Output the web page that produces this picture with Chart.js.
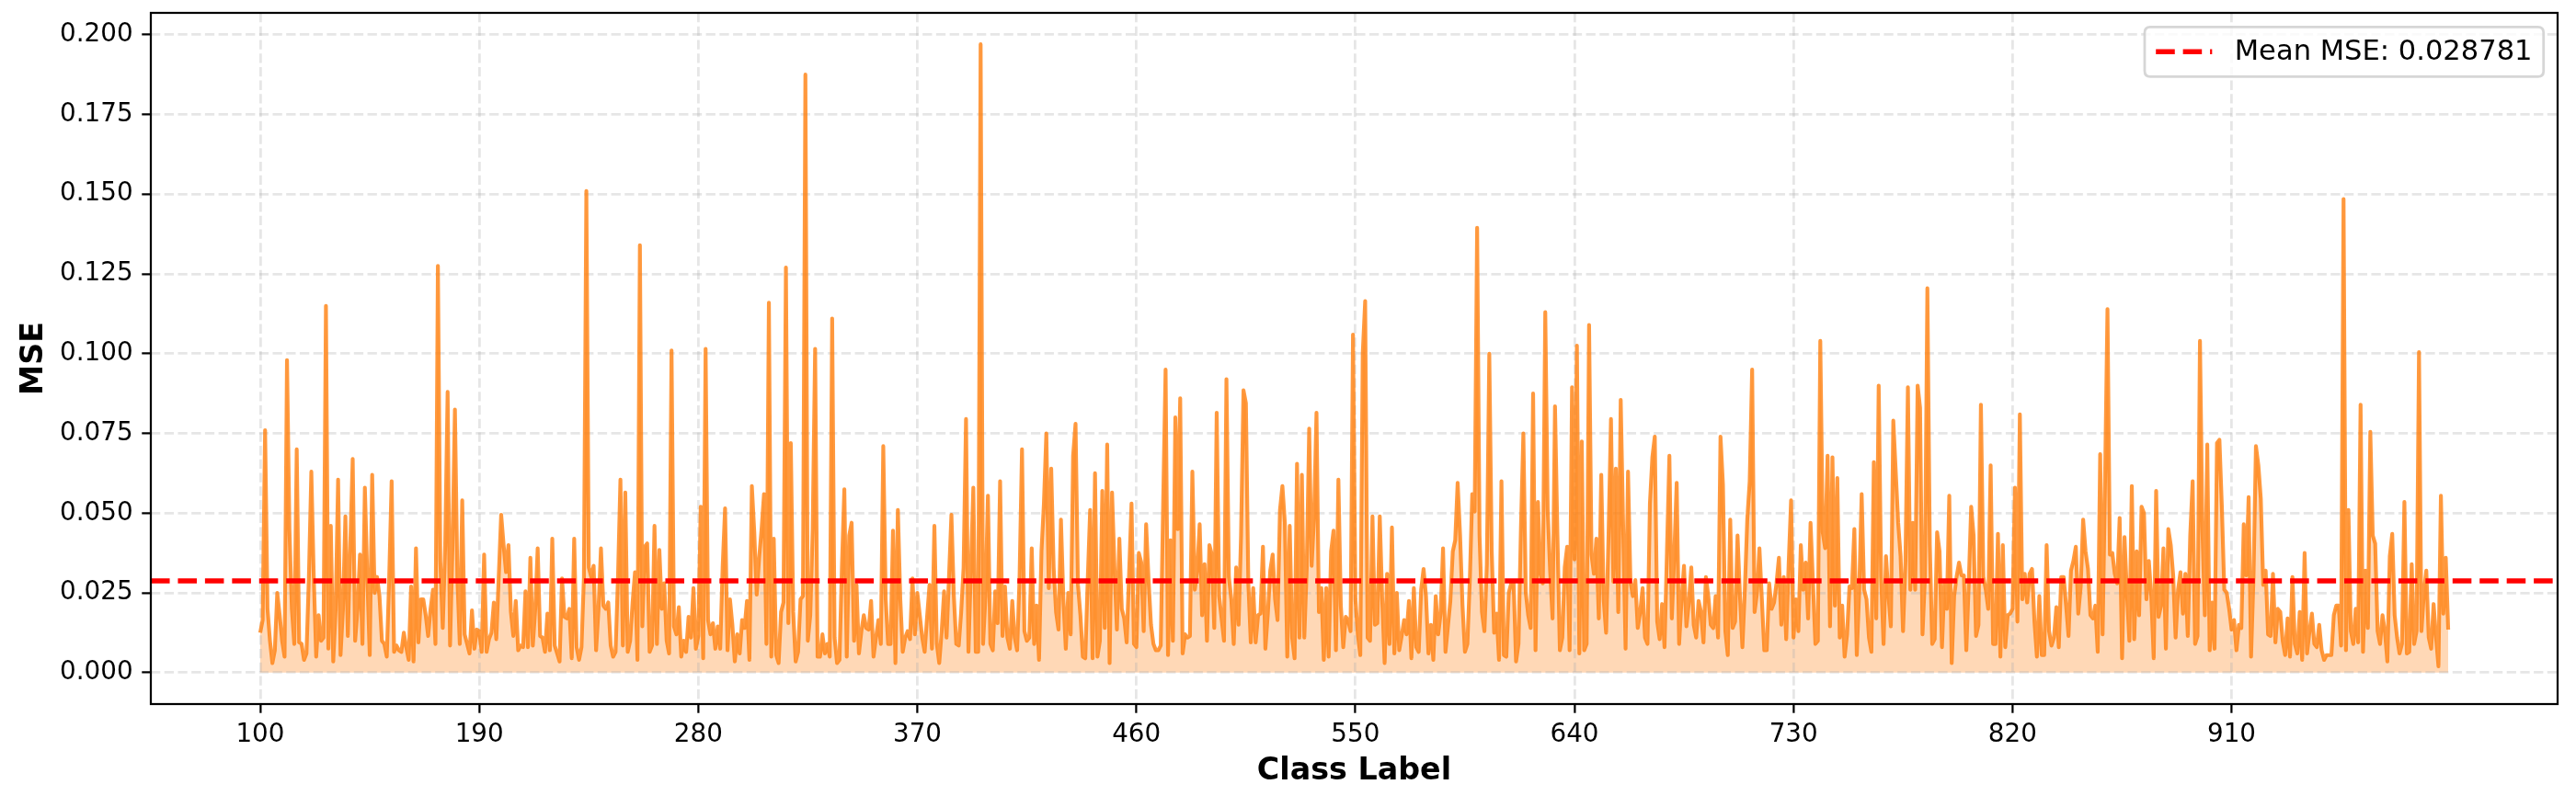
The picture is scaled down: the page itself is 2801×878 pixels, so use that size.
<!DOCTYPE html>
<html>
<head>
<meta charset="utf-8">
<script src="https://cdn.jsdelivr.net/npm/chart.js@4.4.1/dist/chart.umd.min.js"></script>
<style>
html,body{margin:0;padding:0;background:#ffffff;}
#wrap{width:2801px;height:878px;background:#ffffff;}
canvas{display:block;}
</style>
</head>
<body>
<div id="wrap"><canvas id="c" width="2801" height="878"></canvas></div>
<script>
// ---------------- data ----------------
const classStart = 100;
const meanMSE = 0.028781;
const xTickLabels = [100, 190, 280, 370, 460, 550, 640, 730, 820, 910];
const yTickLabels = [0.000, 0.025, 0.050, 0.075, 0.100, 0.125, 0.150, 0.175, 0.200];

const mse100s = [
  0.0125, 0.0165, 0.076, 0.020, 0.010, 0.003, 0.007, 0.025, 0.018, 0.010,
  0.005, 0.098, 0.045, 0.020, 0.009, 0.070, 0.0095, 0.009, 0.004, 0.006,
  0.030, 0.063, 0.030, 0.005, 0.018, 0.010, 0.011, 0.115, 0.0075, 0.046,
  0.0035, 0.020, 0.0605, 0.0055, 0.020, 0.049, 0.0115, 0.040, 0.067, 0.010,
  0.020, 0.037, 0.009, 0.058, 0.030, 0.0055, 0.062, 0.025, 0.030, 0.024,
  0.010, 0.009, 0.005, 0.030, 0.060, 0.0065, 0.0085, 0.007, 0.0065, 0.0125,
  0.008, 0.004, 0.027, 0.0035, 0.039, 0.0095, 0.023, 0.023, 0.018, 0.0115,
  0.020, 0.026, 0.009, 0.1275, 0.035, 0.014, 0.040, 0.088, 0.0085, 0.040,
  0.0825, 0.030, 0.009, 0.054, 0.012, 0.009, 0.006, 0.0195, 0.0075, 0.0135,
  0.013, 0.0065, 0.037, 0.0065, 0.0105, 0.0125, 0.022, 0.0105, 0.030, 0.0495
];
const mse200s = [
  0.040, 0.0315, 0.040, 0.019, 0.0115, 0.0225, 0.007, 0.0085, 0.008, 0.0255,
  0.008, 0.036, 0.0085, 0.020, 0.039, 0.0115, 0.011, 0.0065, 0.0185, 0.007,
  0.042, 0.0085, 0.006, 0.0035, 0.0295, 0.0175, 0.017, 0.020, 0.0045, 0.042,
  0.008, 0.004, 0.008, 0.030, 0.151, 0.033, 0.030, 0.0335, 0.007, 0.020,
  0.039, 0.021, 0.020, 0.022, 0.0085, 0.005, 0.0065, 0.030, 0.0605, 0.0085,
  0.0565, 0.0065, 0.010, 0.022, 0.0315, 0.004, 0.134, 0.0145, 0.0395, 0.0405,
  0.0065, 0.0085, 0.046, 0.009, 0.0385, 0.020, 0.028, 0.010, 0.006, 0.101,
  0.0145, 0.012, 0.0205, 0.005, 0.010, 0.0065, 0.0175, 0.011, 0.0265, 0.0075,
  0.0115, 0.052, 0.0045, 0.1015, 0.0165, 0.012, 0.0155, 0.0075, 0.0145, 0.0075,
  0.033, 0.0515, 0.007, 0.023, 0.015, 0.0035, 0.012, 0.006, 0.0165, 0.014
];
const mse300s = [
  0.0225, 0.004, 0.0585, 0.044, 0.0245, 0.036, 0.045, 0.056, 0.009, 0.116,
  0.005, 0.042, 0.0055, 0.003, 0.019, 0.022, 0.127, 0.0155, 0.072, 0.019,
  0.0035, 0.0065, 0.023, 0.024, 0.1875, 0.010, 0.018, 0.045, 0.1015, 0.005,
  0.005, 0.012, 0.006, 0.009, 0.005, 0.111, 0.011, 0.003, 0.004, 0.033,
  0.0575, 0.005, 0.043, 0.047, 0.010, 0.0275, 0.006, 0.013, 0.018, 0.014,
  0.0135, 0.0225, 0.005, 0.011, 0.0165, 0.009, 0.071, 0.023, 0.009, 0.009,
  0.0445, 0.003, 0.051, 0.023, 0.0065, 0.011, 0.013, 0.0105, 0.0295, 0.012,
  0.025, 0.018, 0.011, 0.0065, 0.0175, 0.0275, 0.0075, 0.046, 0.009, 0.003,
  0.013, 0.0255, 0.011, 0.030, 0.0495, 0.024, 0.009, 0.0085, 0.019, 0.033,
  0.0795, 0.0065, 0.033, 0.058, 0.0065, 0.0065, 0.197, 0.009, 0.024, 0.0555
];
const mse400s = [
  0.009, 0.007, 0.0255, 0.0155, 0.060, 0.0115, 0.027, 0.011, 0.0075, 0.0225,
  0.011, 0.007, 0.030, 0.070, 0.013, 0.010, 0.011, 0.039, 0.009, 0.021,
  0.004, 0.038, 0.053, 0.075, 0.0265, 0.064, 0.033, 0.019, 0.0135, 0.048,
  0.023, 0.0075, 0.025, 0.012, 0.068, 0.078, 0.0275, 0.018, 0.005, 0.0045,
  0.029, 0.051, 0.0045, 0.0625, 0.005, 0.010, 0.057, 0.014, 0.0715, 0.003,
  0.0565, 0.033, 0.0135, 0.042, 0.020, 0.017, 0.0095, 0.031, 0.053, 0.009,
  0.008, 0.0375, 0.0345, 0.013, 0.0465, 0.029, 0.015, 0.009, 0.007, 0.007,
  0.0085, 0.053, 0.095, 0.0055, 0.0415, 0.010, 0.080, 0.045, 0.086, 0.006,
  0.012, 0.011, 0.0115, 0.063, 0.026, 0.032, 0.0465, 0.018, 0.034, 0.010,
  0.040, 0.037, 0.014, 0.0815, 0.024, 0.017, 0.010, 0.092, 0.030, 0.023
];
const mse500s = [
  0.009, 0.033, 0.015, 0.043, 0.0885, 0.0845, 0.028, 0.0095, 0.0265, 0.0095,
  0.018, 0.0185, 0.0395, 0.0075, 0.0185, 0.032, 0.037, 0.023, 0.0165, 0.051,
  0.0585, 0.047, 0.005, 0.046, 0.011, 0.0045, 0.0655, 0.011, 0.062, 0.011,
  0.033, 0.0765, 0.0335, 0.049, 0.0815, 0.019, 0.0265, 0.004, 0.0265, 0.005,
  0.038, 0.0445, 0.007, 0.0605, 0.021, 0.008, 0.0175, 0.0165, 0.013, 0.106,
  0.023, 0.012, 0.0055, 0.100, 0.1165, 0.011, 0.010, 0.049, 0.015, 0.0155,
  0.049, 0.023, 0.003, 0.031, 0.009, 0.0455, 0.006, 0.025, 0.007, 0.0115,
  0.0165, 0.012, 0.0225, 0.0045, 0.0265, 0.008, 0.0065, 0.026, 0.0325, 0.024,
  0.006, 0.015, 0.004, 0.024, 0.012, 0.0185, 0.039, 0.0065, 0.0145, 0.0225,
  0.038, 0.0415, 0.0595, 0.043, 0.021, 0.0065, 0.009, 0.029, 0.056, 0.0505
];
const mse600s = [
  0.1395, 0.043, 0.019, 0.013, 0.034, 0.100, 0.038, 0.0125, 0.0185, 0.004,
  0.060, 0.0055, 0.005, 0.025, 0.028, 0.028, 0.0035, 0.009, 0.045, 0.075,
  0.025, 0.018, 0.014, 0.0875, 0.007, 0.0535, 0.031, 0.028, 0.113, 0.051,
  0.032, 0.017, 0.0835, 0.043, 0.007, 0.011, 0.033, 0.0395, 0.007, 0.0895,
  0.0355, 0.1025, 0.006, 0.0725, 0.007, 0.009, 0.109, 0.037, 0.031, 0.042,
  0.017, 0.062, 0.023, 0.0125, 0.043, 0.0795, 0.0285, 0.064, 0.019, 0.0855,
  0.046, 0.0075, 0.063, 0.0285, 0.024, 0.029, 0.014, 0.019, 0.0265, 0.011,
  0.009, 0.053, 0.0675, 0.074, 0.016, 0.0105, 0.0215, 0.008, 0.038, 0.068,
  0.017, 0.037, 0.0595, 0.009, 0.023, 0.0335, 0.0145, 0.022, 0.033, 0.015,
  0.011, 0.0225, 0.019, 0.0095, 0.030, 0.024, 0.015, 0.014, 0.024, 0.011
];
const mse700s = [
  0.074, 0.059, 0.013, 0.0055, 0.048, 0.014, 0.016, 0.043, 0.024, 0.008,
  0.026, 0.048, 0.060, 0.095, 0.019, 0.025, 0.039, 0.023, 0.007, 0.007,
  0.028, 0.020, 0.022, 0.028, 0.036, 0.015, 0.030, 0.0105, 0.034, 0.054,
  0.011, 0.023, 0.013, 0.040, 0.026, 0.0345, 0.017, 0.047, 0.028, 0.009,
  0.010, 0.104, 0.044, 0.039, 0.068, 0.0145, 0.0675, 0.021, 0.061, 0.011,
  0.021, 0.005, 0.012, 0.027, 0.0265, 0.045, 0.0055, 0.026, 0.056, 0.026,
  0.023, 0.011, 0.0065, 0.066, 0.017, 0.090, 0.030, 0.009, 0.0365, 0.0245,
  0.0145, 0.079, 0.063, 0.047, 0.0365, 0.013, 0.035, 0.0895, 0.026, 0.047,
  0.026, 0.090, 0.083, 0.012, 0.030, 0.1205, 0.040, 0.009, 0.0105, 0.044,
  0.038, 0.008, 0.028, 0.020, 0.0555, 0.003, 0.024, 0.030, 0.0345, 0.0305
];
const mse800s = [
  0.0305, 0.007, 0.028, 0.052, 0.043, 0.0115, 0.015, 0.084, 0.030, 0.026,
  0.020, 0.065, 0.009, 0.009, 0.0435, 0.005, 0.040, 0.008, 0.018, 0.0185,
  0.020, 0.058, 0.016, 0.081, 0.023, 0.031, 0.022, 0.031, 0.0325, 0.016,
  0.005, 0.024, 0.0055, 0.0055, 0.040, 0.013, 0.0085, 0.011, 0.0205, 0.008,
  0.030, 0.030, 0.021, 0.0115, 0.032, 0.035, 0.0395, 0.0185, 0.027, 0.048,
  0.038, 0.0325, 0.018, 0.017, 0.021, 0.0065, 0.0685, 0.012, 0.060, 0.114,
  0.037, 0.0375, 0.031, 0.028, 0.0485, 0.0045, 0.0425, 0.025, 0.010, 0.0585,
  0.0105, 0.038, 0.018, 0.052, 0.050, 0.023, 0.035, 0.024, 0.0045, 0.057,
  0.0175, 0.021, 0.039, 0.0075, 0.045, 0.040, 0.0305, 0.011, 0.026, 0.0315,
  0.0185, 0.031, 0.0115, 0.043, 0.060, 0.009, 0.0115, 0.104, 0.0455, 0.018
];
const mse900s = [
  0.0715, 0.007, 0.022, 0.0075, 0.072, 0.073, 0.052, 0.026, 0.025, 0.020,
  0.0135, 0.0165, 0.007, 0.015, 0.014, 0.0465, 0.0305, 0.055, 0.005, 0.030,
  0.071, 0.065, 0.0545, 0.0275, 0.032, 0.012, 0.0115, 0.031, 0.0095, 0.020,
  0.019, 0.010, 0.0055, 0.017, 0.005, 0.030, 0.009, 0.006, 0.019, 0.004,
  0.0375, 0.006, 0.013, 0.0185, 0.009, 0.008, 0.015, 0.007, 0.004, 0.0055,
  0.0055, 0.0055, 0.018, 0.021, 0.021, 0.0085, 0.1485, 0.007, 0.051, 0.013,
  0.009, 0.020, 0.0095, 0.084, 0.0065, 0.032, 0.014, 0.0755, 0.043, 0.0405,
  0.013, 0.009, 0.018, 0.013, 0.0035, 0.0365, 0.0435, 0.018, 0.011, 0.006,
  0.009, 0.0535, 0.006, 0.0065, 0.034, 0.009, 0.013, 0.1005, 0.013, 0.025,
  0.032, 0.011, 0.0075, 0.0215, 0.011, 0.002, 0.0555, 0.0185, 0.036, 0.0135
];

// ---------------- build ----------------
const mseValues = [].concat(mse100s, mse200s, mse300s, mse400s, mse500s, mse600s, mse700s, mse800s, mse900s);
const classLabels = mseValues.map((_, i) => classStart + i);
const msePoints = classLabels.map((c, i) => ({x: c, y: mseValues[i]}));

// matplotlib-like 5% margins
const xFirst = classLabels[0], xLast = classLabels[classLabels.length - 1];
const xMargin = (xLast - xFirst) * 0.05;
const xMin = xFirst - xMargin, xMax = xLast + xMargin;
const yDataMax = Math.max.apply(null, mseValues);
const yMargin = (yDataMax - 0) * 0.05;
const yMin = 0 - yMargin, yMax = yDataMax + yMargin;

const DPI = 200 / 72; // px per pt
const FONT = '"DejaVu Sans", "Liberation Sans", sans-serif';
const tickFontSize = 10 * DPI;
const labelFontSize = 12 * DPI;
const legendFontSize = 11 * DPI;
const meanDash = [3.7 * 2 * DPI, 1.6 * 2 * DPI];
const gridColor = 'rgba(176,176,176,0.32)';

const framePlugin = {
  id: 'frameAndLegend',
  afterDraw(chart) {
    const {ctx, chartArea: a} = chart;
    ctx.save();
    // axes frame (4 spines)
    ctx.strokeStyle = '#000000';
    ctx.lineWidth = 0.8 * DPI;
    ctx.setLineDash([]);
    ctx.strokeRect(a.left, a.top, a.right - a.left, a.bottom - a.top);

    // legend
    const fs = legendFontSize;
    const ds = chart.data.datasets[0];
    ctx.font = fs + 'px ' + FONT;
    const tw = ctx.measureText(ds.label).width;
    const pad = 0.4 * fs, handleLen = 2.0 * fs, handlePad = 0.8 * fs;
    const boxW = pad * 2 + handleLen + handlePad + tw;
    const boxH = 1.77 * fs;
    const right = a.right - 0.5 * fs;
    const top = a.top + 0.5 * fs;
    const left = right - boxW;
    const r = 0.2 * fs;
    ctx.beginPath();
    ctx.moveTo(left + r, top);
    ctx.lineTo(left + boxW - r, top);
    ctx.quadraticCurveTo(left + boxW, top, left + boxW, top + r);
    ctx.lineTo(left + boxW, top + boxH - r);
    ctx.quadraticCurveTo(left + boxW, top + boxH, left + boxW - r, top + boxH);
    ctx.lineTo(left + r, top + boxH);
    ctx.quadraticCurveTo(left, top + boxH, left, top + boxH - r);
    ctx.lineTo(left, top + r);
    ctx.quadraticCurveTo(left, top, left + r, top);
    ctx.closePath();
    ctx.fillStyle = 'rgba(255,255,255,0.8)';
    ctx.fill();
    ctx.strokeStyle = 'rgba(204,204,204,0.8)';
    ctx.lineWidth = 1.0 * DPI;
    ctx.stroke();

    const cy = top + boxH / 2;
    ctx.beginPath();
    ctx.strokeStyle = ds.borderColor;
    ctx.lineWidth = ds.borderWidth;
    ctx.setLineDash(ds.borderDash);
    ctx.moveTo(left + pad, cy);
    ctx.lineTo(left + pad + handleLen, cy);
    ctx.stroke();
    ctx.setLineDash([]);
    ctx.fillStyle = '#000000';
    ctx.textBaseline = 'middle';
    ctx.textAlign = 'left';
    ctx.fillText(ds.label, left + pad + handleLen + handlePad, cy + 1);
    ctx.restore();
  }
};

function zeroPad(s) {
  s.paddingTop = 0; s.paddingBottom = 0; s.paddingLeft = 0; s.paddingRight = 0;
}

const ctx = document.getElementById('c').getContext('2d');
new Chart(ctx, {
  type: 'line',
  data: {
    datasets: [
      {
        label: 'Mean MSE: ' + meanMSE.toFixed(6),
        data: [{x: xMin, y: meanMSE}, {x: xMax, y: meanMSE}],
        borderColor: '#ff0000',
        borderWidth: 2 * DPI,
        borderDash: meanDash,
        pointRadius: 0,
        fill: false,
        order: 0
      },
      {
        label: 'MSE',
        data: msePoints,
        borderColor: 'rgba(255,127,14,0.8)',
        backgroundColor: 'rgba(255,127,14,0.3)',
        borderWidth: 1.5 * DPI,
        borderJoinStyle: 'round',
        pointRadius: 0,
        tension: 0,
        fill: 'origin',
        order: 1
      }
    ]
  },
  options: {
    responsive: false,
    animation: false,
    devicePixelRatio: 1,
    layout: {padding: {left: 0, right: 20, top: 14, bottom: 0}},
    plugins: {
      legend: {display: false},
      tooltip: {enabled: false},
      filler: {drawTime: 'beforeDraw'}
    },
    scales: {
      x: {
        type: 'linear',
        min: xMin,
        max: xMax,
        afterBuildTicks: (s) => { s.ticks = xTickLabels.map(v => ({value: v})); },
        afterFit: (s) => { s.height = 112; zeroPad(s); },
        ticks: {
          autoSkip: false,
          maxRotation: 0,
          color: '#000000',
          padding: 3.5 * DPI,
          font: {family: FONT, size: tickFontSize, lineHeight: 1},
          callback: (v) => String(v)
        },
        grid: {
          color: gridColor,
          lineWidth: 1.0 * DPI,
          drawTicks: true,
          tickLength: 3.5 * DPI,
          tickColor: '#000000',
          tickWidth: 0.8 * DPI,
          tickBorderDash: []
        },
        border: {display: false, dash: [3.7 * DPI, 1.6 * DPI]},
        title: {
          display: true,
          text: 'Class Label',
          color: '#000000',
          font: {family: FONT, size: labelFontSize, weight: 'bold', lineHeight: 1},
          padding: {top: 0, bottom: 21.9}
        }
      },
      y: {
        type: 'linear',
        min: yMin,
        max: yMax,
        afterBuildTicks: (s) => { s.ticks = yTickLabels.map(v => ({value: v})); },
        afterFit: (s) => { s.width = 164; zeroPad(s); },
        ticks: {
          color: '#000000',
          padding: 3.5 * DPI,
          font: {family: FONT, size: tickFontSize, lineHeight: 1},
          callback: (v) => Number(v).toFixed(3)
        },
        grid: {
          color: gridColor,
          lineWidth: 1.0 * DPI,
          drawTicks: true,
          tickLength: 3.5 * DPI,
          tickColor: '#000000',
          tickWidth: 0.8 * DPI,
          tickBorderDash: []
        },
        border: {display: false, dash: [3.7 * DPI, 1.6 * DPI]},
        title: {
          display: true,
          text: 'MSE',
          color: '#000000',
          font: {family: FONT, size: labelFontSize, weight: 'bold', lineHeight: 1},
          padding: {top: 21, bottom: 0}
        }
      }
    }
  },
  plugins: [framePlugin]
});
</script>
</body>
</html>
